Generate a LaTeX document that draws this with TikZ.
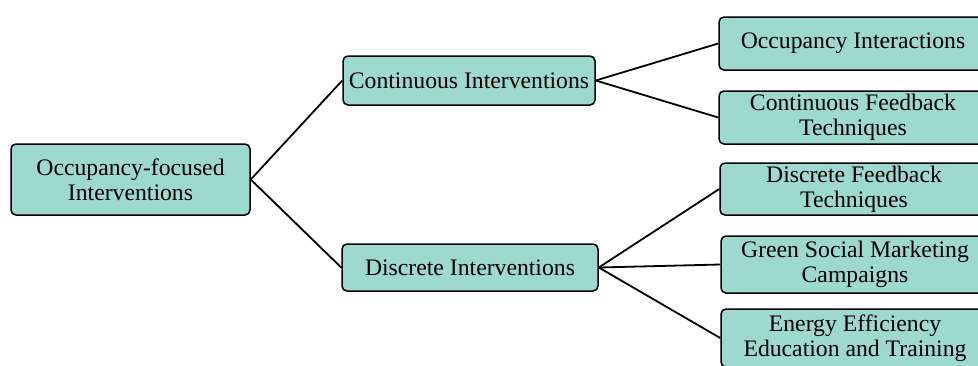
\documentclass[tikz,border=0pt]{standalone}
\usepackage{fontspec}
\setmainfont{Liberation Serif}
\definecolor{boxfill}{RGB}{158,217,207}
\begin{document}
\begin{tikzpicture}[x=1pt,y=-1pt,
  box/.style={draw=black, line width=1.5pt, fill=boxfill, rounded corners=5pt,
    inner sep=0pt, align=center, font=\fontsize{23.7}{25}\selectfont},
  link/.style={line width=1.8pt}]
\useasboundingbox (0,0) rectangle (978,365);
\node[box, minimum width=239pt, minimum height=71pt] (root) at (130.5,179.5) {Occupancy-focused\\Interventions};
\node[box, minimum width=252pt, minimum height=49pt] (cont) at (469,80.5) {Continuous Interventions};
\node[box, minimum width=256pt, minimum height=47pt] (disc) at (470,267.5) {Discrete Interventions};
\node[box, minimum width=268pt, minimum height=53pt] (oi) at (853,43.5) {Occupancy Interactions};
\node[box, minimum width=268pt, minimum height=53pt] (cf) at (853,117.5) {Continuous Feedback\\Techniques};
\node[box, minimum width=268pt, minimum height=52pt] (df) at (854,189) {Discrete Feedback\\Techniques};
\node[box, minimum width=268pt, minimum height=57pt] (gs) at (855,264.5) {Green Social Marketing\\Campaigns};
\node[box, minimum width=268pt, minimum height=58pt] (ee) at (855,338) {Energy Efficiency\\Education and Training};
\draw[link] (root.east) -- (cont.west);
\draw[link] (root.east) -- (disc.west);
\draw[link] (cont.east) -- (oi.west);
\draw[link] (cont.east) -- (cf.west);
\draw[link] (disc.east) -- (df.west);
\draw[link] (disc.east) -- (gs.west);
\draw[link] (disc.east) -- (ee.west);
\end{tikzpicture}
\end{document}
